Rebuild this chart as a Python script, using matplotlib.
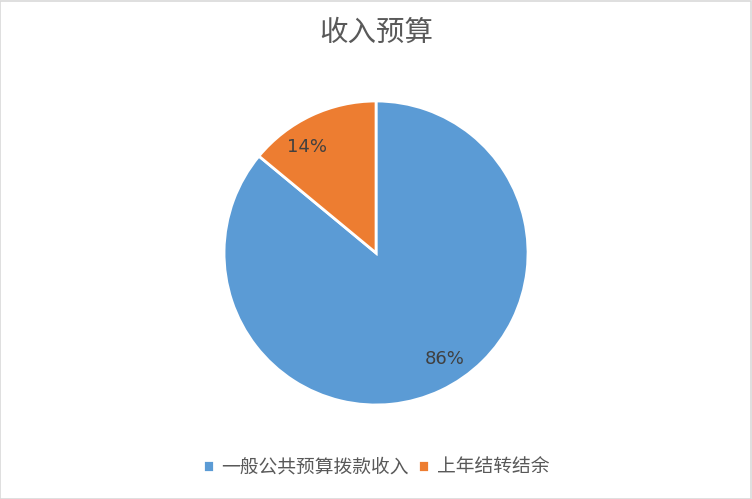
import matplotlib
matplotlib.use("Agg")
import numpy as np
import matplotlib.pyplot as plt
from matplotlib.patches import Rectangle

plt.rcParams['font.family'] = ['Noto Sans CJK SC', 'DejaVu Sans']

title = "收入预算"
categories = ["一般公共预算拨款收入", "上年结转结余"]
values = [86, 14]
colors = ["#5B9BD5", "#ED7D31"]

fig = plt.figure(figsize=(7.52, 4.99), dpi=100)
fig.patches.append(Rectangle((0.0005, 0.001), 0.998, 0.997, transform=fig.transFigure,
                             fill=False, edgecolor="#D9D9D9", linewidth=1.2))

ax = fig.add_axes([0.2979, 0.1884, 0.4043, 0.6092])
wedges, texts, autotexts = ax.pie(
    values, colors=colors, startangle=90, counterclock=False,
    autopct=lambda p: f"{p:.0f}%", pctdistance=0.82,
    wedgeprops=dict(edgecolor="white", linewidth=2),
    textprops=dict(fontsize=13, color="#404040", family=['DejaVu Sans']))
# shift label placement slightly (as in the reference rendering)
for w, t in zip(wedges, autotexts):
    ang = np.deg2rad((w.theta1 + w.theta2) / 2 + 8)
    t.set_position((0.83 * np.cos(ang), 0.83 * np.sin(ang)))
ax.set_xlim(-1, 1)
ax.set_ylim(-1, 1)
ax.set_aspect('equal')
ax.axis('off')

fig.text(0.5, 0.934, title, ha='center', va='center', fontsize=20.5, color="#595959")

leg = fig.legend(wedges, categories, loc='center', bbox_to_anchor=(0.5, 0.064), ncol=2,
                 frameon=False, handlelength=0.6, handleheight=0.6, handletextpad=0.4,
                 columnspacing=0.5, fontsize=13.5)
for t in leg.get_texts():
    t.set_color("#595959")

fig.savefig("out.png", dpi=100)
